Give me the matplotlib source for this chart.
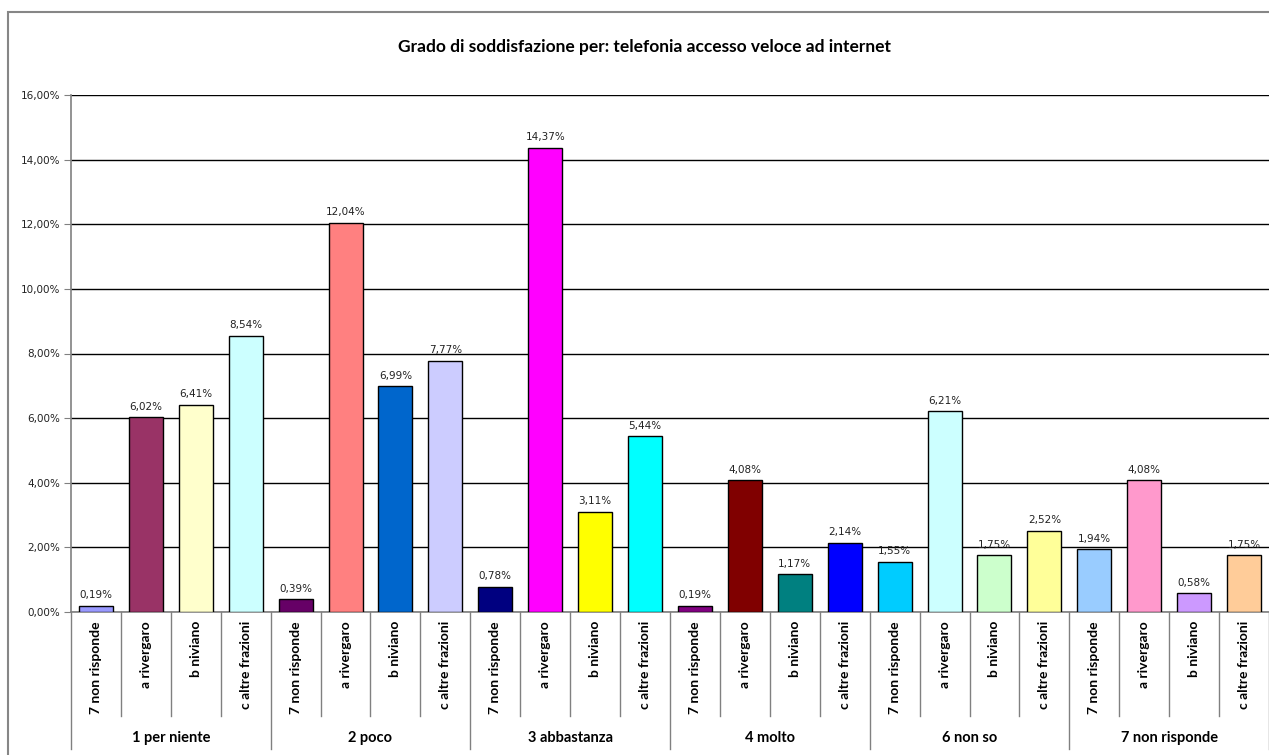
import matplotlib
matplotlib.use("Agg")
import matplotlib.pyplot as plt
from matplotlib.patches import Rectangle
from matplotlib.lines import Line2D
import matplotlib.transforms as mtransforms

title = "Grado di soddisfazione per: telefonia accesso veloce ad internet"
groups = ["1 per niente", "2 poco", "3 abbastanza", "4 molto", "6 non so", "7 non risponde"]
subcats = ["7 non risponde", "a rivergaro", "b niviano", "c altre frazioni"]
values = [
    0.19, 6.02, 6.41, 8.54,
    0.39, 12.04, 6.99, 7.77,
    0.78, 14.37, 3.11, 5.44,
    0.19, 4.08, 1.17, 2.14,
    1.55, 6.21, 1.75, 2.52,
    1.94, 4.08, 0.58, 1.75,
]
colors = [
    "#9999FF", "#993366", "#FFFFCC", "#CCFFFF",
    "#660066", "#FF8080", "#0066CC", "#CCCCFF",
    "#000080", "#FF00FF", "#FFFF00", "#00FFFF",
    "#800080", "#800000", "#008080", "#0000FF",
    "#00CCFF", "#CCFFFF", "#CCFFCC", "#FFFF99",
    "#99CCFF", "#FF99CC", "#CC99FF", "#FFCC99",
]
yticks = [0, 2, 4, 6, 8, 10, 12, 14, 16]

W, H = 1269, 755
fig = plt.figure(figsize=(W / 100, H / 100), dpi=100)
fig.patch.set_facecolor("white")

# outer chart border
fig.add_artist(Rectangle((8 / W, -0.5), 2.0, 1.5 - 12 / H, transform=fig.transFigure,
                         fill=False, edgecolor="#868686", lw=1.5))

left, right, top, bottom = 71, 1269, 95, 612
ax = fig.add_axes([left / W, (H - bottom) / H, (right - left) / W, (bottom - top) / H])

n = len(values)
x = list(range(n))
ax.bar(x, values, width=0.68, color=colors, edgecolor="black", linewidth=1, zorder=3)
for xi, v in zip(x, values):
    ax.annotate(f"{v:.2f}%".replace(".", ","), (xi, v), xytext=(0, 4), textcoords="offset points",
                ha="center", va="bottom", fontsize=7.5, color="#222222", family="DejaVu Sans")

ax.set_xlim(-0.5, n - 0.5)
ax.set_ylim(0, 16)
ax.set_yticks(yticks)
ax.set_yticklabels([f"{t:.2f}%".replace(".", ",") for t in yticks], fontsize=7.5,
                   family="DejaVu Sans", color="#222222")
ax.yaxis.grid(True, color="black", linewidth=1, zorder=0)
ax.set_axisbelow(True)
ax.tick_params(axis="y", direction="out", length=5, color="#808080", pad=3)
ax.set_xticks([])
for s in ["top", "right"]:
    ax.spines[s].set_visible(False)
for s in ["left", "bottom"]:
    ax.spines[s].set_color("#808080")
    ax.spines[s].set_linewidth(1.2)

trans = mtransforms.blended_transform_factory(ax.transData, ax.transAxes)
plot_h = bottom - top
small = -104 / plot_h
big = -137 / plot_h
for i in range(n + 1):
    xb = i - 0.5
    yend = big if i % 4 == 0 else small
    ax.add_line(Line2D([xb, xb], [0, yend], transform=trans, color="#808080", lw=1, clip_on=False))

for i in range(n):
    ax.text(i, -9 / plot_h, subcats[i % 4], transform=trans, rotation=90, ha="center", va="top",
            fontsize=10, fontweight="bold", family="Lato", color="black")

for g, name in enumerate(groups):
    ax.text(g * 4 + 1.5, -126 / plot_h, name, transform=trans, ha="center", va="center",
            fontsize=10.5, fontweight="bold", family="Lato", color="black")

fig.text(645 / W, 1 - 47 / H, title, ha="center", va="center", fontsize=12.5,
         fontweight="bold", family="Lato", color="black")

fig.savefig("out.png", dpi=100)
